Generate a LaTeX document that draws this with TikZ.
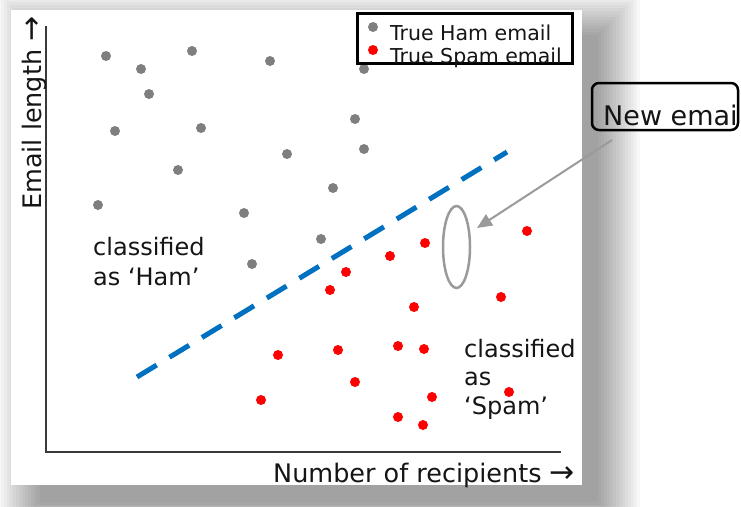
\documentclass[tikz,border=0pt]{standalone}
\usepackage{fontspec}
\setmainfont{DejaVu Sans}
\usetikzlibrary{arrows.meta,shapes.geometric}
\definecolor{hamgray}{HTML}{7F7F7F}
\definecolor{spamred}{HTML}{FF0000}
\definecolor{lineblue}{HTML}{0070C0}
\definecolor{ellgray}{HTML}{9A9A9A}
\definecolor{axisgray}{HTML}{3A3A3A}
\definecolor{txt}{HTML}{151515}
\newcommand{\bigarr}{{\fontsize{30}{30}\selectfont →}}
\begin{document}
\begin{tikzpicture}[x=1pt,y=-1pt,
  ham/.style={circle,fill=hamgray,inner sep=0pt,minimum size=10pt},
  spam/.style={circle,fill=spamred,inner sep=0pt,minimum size=10pt},
  lbl/.style={font=\fontsize{24}{30}\selectfont,text=txt,inner sep=0pt,anchor=north west,align=left},
  axlbl/.style={font=\fontsize{25.5}{30}\selectfont,text=txt,inner sep=0pt,anchor=base west},
  leg/.style={font=\fontsize{20.5}{24}\selectfont,text=txt,inner sep=0pt,anchor=base west}]
\useasboundingbox (0,0) rectangle (741,506);
\fill[white] (0,0) rectangle (741,506);
% shadow of the panel
\foreach \s in {0,3,...,42}{
  \fill[black,opacity=0.027] (40-\s,35-\s) rectangle (598+\s,502+\s);
}
\fill[white] (11,10) rectangle (582,485);
% axes
\coordinate (ytop) at (46,26);
\coordinate (origin) at (46,452);
\coordinate (xend) at (561,452);
\draw[axisgray,line width=2.5pt] (ytop) -- (origin) -- (xend);
\node[axlbl,rotate=90] (ylab) at (41,210) {Email length \bigarr};
\node[axlbl] (xlab) at (273,482) {Number of recipients \bigarr};
% ham dots
\foreach \p/\n in {{(106,56)}/h1,{(141,69)}/h2,{(192,51)}/h3,{(270,61)}/h4,{(364,69)}/h5,{(149,94)}/h6,{(115,131)}/h7,{(201,128)}/h8,{(355,119)}/h9,{(287,154)}/h10,{(364,149)}/h11,{(178,170)}/h12,{(333,188)}/h13,{(98,205)}/h14,{(244,213)}/h15,{(321,239)}/h16,{(252,264)}/h17}
  \node[ham] (\n) at \p {};
% spam dots
\foreach \p/\n in {{(425,243)}/s1,{(390,256)}/s2,{(346,272)}/s3,{(330,290)}/s4,{(527,231)}/s5,{(501,297)}/s6,{(414,307)}/s7,{(278,355)}/s8,{(338,350)}/s9,{(398,346)}/s10,{(424,349)}/s11,{(355,382)}/s12,{(261,400)}/s13,{(432,397)}/s14,{(509,392)}/s15,{(398,417)}/s16,{(423,425)}/s17}
  \node[spam] (\n) at \p {};
% decision boundary
\coordinate (b1) at (137,377);
\coordinate (b2) at (507,152);
\draw[lineblue,line width=5pt,dash pattern=on 23pt off 15pt] (b1) -- (b2);
% region labels
\node[lbl] (hamlab) at (93,237) {classified\\as ‘Ham’};
\node[lbl,font=\fontsize{24}{28.5}\selectfont] (spamlab) at (464,339) {classified\\as\\‘Spam’};
% new email
\node[draw=ellgray,line width=2.5pt,ellipse,minimum width=27pt,minimum height=82pt,inner sep=0pt] (newmail) at (456.5,247) {};
\node[draw=black,line width=2.5pt,rounded corners=7pt,minimum width=146pt,minimum height=47pt,inner sep=0pt] (newbox) at (665,106.5) {};
\node[font=\fontsize{27}{30}\selectfont,text=txt,inner sep=0pt,anchor=base west] (newtxt) at (603,125) {New emai};
\coordinate (arrstart) at (612,140);
\coordinate (arrtip) at (477,228);
\draw[ellgray,line width=2pt,-{Triangle[length=15pt,width=13pt]}] (arrstart) -- (arrtip);
% legend
\node[draw=black,fill=white,line width=3pt,minimum width=215pt,minimum height=50pt,inner sep=0pt] (legend) at (464.5,38) {};
\node[ham] (lham) at (373,27) {};
\node[spam] (lspam) at (373,50) {};
\node[leg] (lhamt) at (390,40) {True Ham email};
\node[leg] (lspamt) at (390,63) {True Spam email};
\end{tikzpicture}
\end{document}
